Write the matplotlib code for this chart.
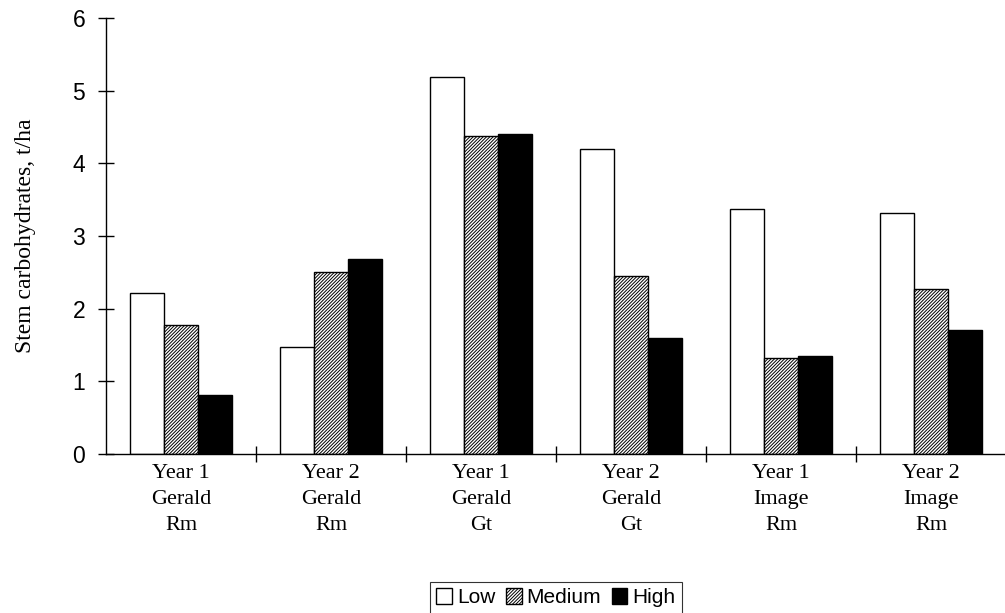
import numpy as np
import matplotlib
matplotlib.use('Agg')
import matplotlib.pyplot as plt

# datos
grupos = ['Year 1\nGerald\nRm', 'Year 2\nGerald\nRm', 'Year 1\nGerald\nGt',
          'Year 2\nGerald\nGt', 'Year 1\nImage\nRm', 'Year 2\nImage\nRm']
low = [2.21, 1.47, 5.19, 4.20, 3.37, 3.32]
medium = [1.77, 2.51, 4.37, 2.45, 1.32, 2.27]
high = [0.81, 2.68, 4.41, 1.60, 1.35, 1.71]

plt.rcParams['hatch.linewidth'] = 0.7

fig = plt.figure(figsize=(10.05, 6.13), dpi=100)
ax = fig.add_axes([106 / 1005, 1 - 454 / 613, 900 / 1005, 436 / 613])

x = np.arange(len(grupos))
w = 0.225
ax.bar(x - w, low, w, color='white', edgecolor='black', linewidth=1, label='Low')
ax.bar(x, medium, w, color='white', edgecolor='black', linewidth=1, hatch='//////////', label='Medium')
ax.bar(x + w, high, w, color='black', edgecolor='black', linewidth=1, label='High')

ax.set_xlim(-0.5, len(grupos) - 0.5)
ax.set_ylim(0, 6)
ax.set_yticks(range(7))
ax.set_yticklabels([str(i) for i in range(7)], family='Liberation Sans', fontsize=16.5)

# ticks entre grupos, etiquetas en el centro
ax.set_xticks(np.arange(0.5, len(grupos) - 0.5, 1))
ax.set_xticklabels([])
ax.set_xticks(x, minor=True)
ax.set_xticklabels(grupos, minor=True, family='Liberation Serif', fontsize=16, linespacing=1.5)
ax.tick_params(axis='x', which='minor', length=0, pad=7)
ax.tick_params(axis='x', which='major', direction='inout', length=12, width=1)
ax.tick_params(axis='y', direction='inout', length=12, width=1, pad=9)

for s in ['top', 'right']:
    ax.spines[s].set_visible(False)
ax.spines['left'].set_linewidth(1)
ax.spines['bottom'].set_linewidth(1)

ax.set_ylabel('Stem carbohydrates, t/ha', family='Liberation Serif', fontsize=17, labelpad=26)

leg = ax.legend(loc='center', bbox_to_anchor=(0.5, -0.33), ncol=3, frameon=True, fancybox=False,
                edgecolor='black', handlelength=0.75, handleheight=0.75, handletextpad=0.25,
                columnspacing=0.5, borderpad=0.3, borderaxespad=0,
                prop={'family': 'Liberation Sans', 'size': 15})
leg.get_frame().set_linewidth(0.8)

fig.savefig('out.png', dpi=100)
